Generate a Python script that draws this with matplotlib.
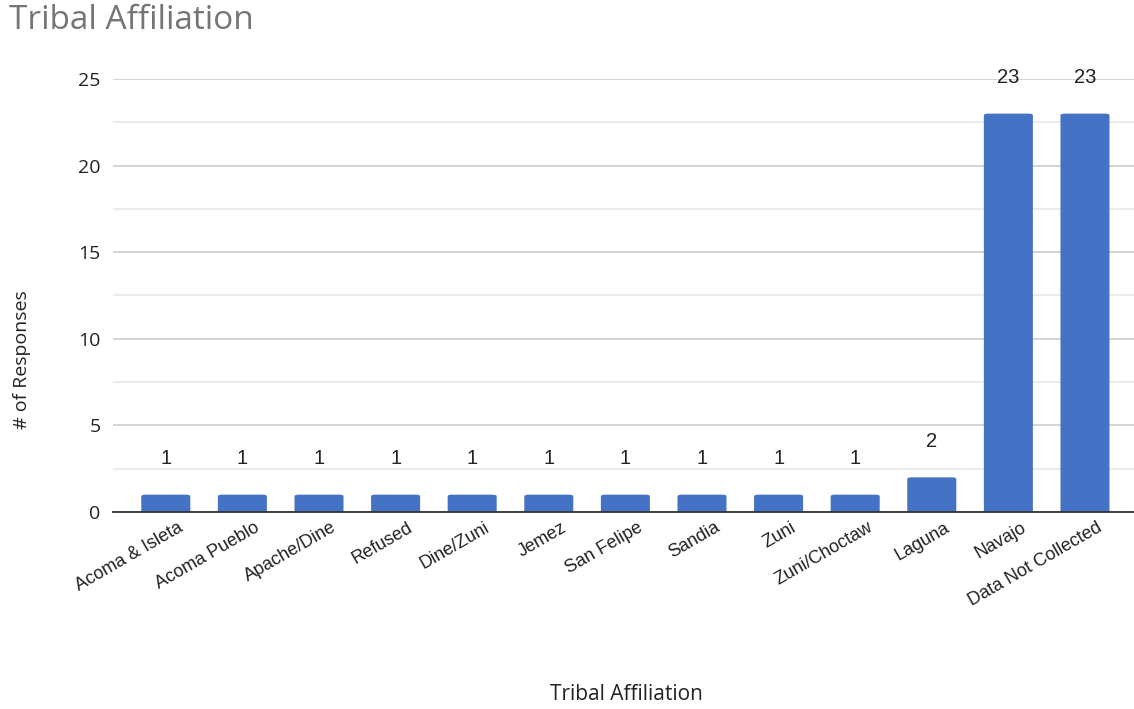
import matplotlib.pyplot as plt
from matplotlib.patches import FancyBboxPatch
import matplotlib.transforms as mtransforms

categories = [
    "Acoma & Isleta", "Acoma Pueblo", "Apache/Dine", "Refused", "Dine/Zuni",
    "Jemez", "San Felipe", "Sandia", "Zuni", "Zuni/Choctaw", "Laguna",
    "Navajo", "Data Not Collected",
]
responses = [1, 1, 1, 1, 1, 1, 1, 1, 1, 1, 2, 23, 23]
y_ticks = [0, 5, 10, 15, 20, 25]

BAR_COLOR = "#4472C4"

fig = plt.figure(figsize=(11.34, 7.09), dpi=100)
ax = fig.add_axes([0.0996, 0.2779, 0.9004, 0.6107])

x = list(range(len(categories)))
bars = ax.bar(x, responses, width=0.64, color=BAR_COLOR, zorder=3)

# rounded top corners like the source chart
for b in bars:
    b.set_visible(False)
    patch = FancyBboxPatch(
        (b.get_x(), -0.3), b.get_width(), b.get_height() + 0.3,
        boxstyle="round,pad=0,rounding_size=0.06",
        mutation_aspect=1 / 0.65,
        facecolor=BAR_COLOR, edgecolor="none", zorder=3, clip_on=True,
    )
    ax.add_patch(patch)

for xi, v in zip(x, responses):
    ax.annotate(str(v), (xi, v), xytext=(0, 19), textcoords="offset points",
                ha="center", va="bottom", fontsize=14.5, family="Liberation Sans",
                color="#222222")

ax.set_xlim(-0.69, 12.64)
ax.set_ylim(0, 25)
ax.set_yticks(y_ticks)
ax.set_yticks([2.5, 7.5, 12.5, 17.5, 22.5], minor=True)
ax.grid(axis="y", which="major", color="#cccccc", linewidth=1.2, zorder=0)
ax.grid(axis="y", which="minor", color="#e8e8e8", linewidth=1.2, zorder=0)
ax.tick_params(axis="y", which="both", length=0, pad=9, labelsize=14,
               labelcolor="#222222")
ax.tick_params(axis="x", length=0, pad=5)
for lbl in ax.get_yticklabels():
    lbl.set_family("Open Sans")

ax.set_xticks(x)
ax.set_xticklabels(categories, rotation=30, ha="right", va="top",
                   rotation_mode="anchor", fontsize=13, family="Liberation Sans",
                   color="#222222")
offset = mtransforms.ScaledTranslation(0.12, 0, fig.dpi_scale_trans)
for lbl in ax.get_xticklabels():
    lbl.set_transform(lbl.get_transform() + offset)

for side in ["top", "right", "left"]:
    ax.spines[side].set_visible(False)
ax.spines["bottom"].set_color("#333333")
ax.spines["bottom"].set_linewidth(1.3)
ax.spines["bottom"].set_zorder(4)

fig.text(0.008, 0.995, "Tribal Affiliation", fontsize=24, family="Open Sans",
         color="#757575", ha="left", va="top")
fig.text(0.019, 0.4925, "# of Responses", rotation=90, fontsize=14,
         family="Open Sans", color="#222222", ha="center", va="center")
fig.text(0.552, 0.02, "Tribal Affiliation", fontsize=15,
         family="Open Sans", color="#222222", ha="center", va="center")

fig.savefig("out.png", dpi=100)
